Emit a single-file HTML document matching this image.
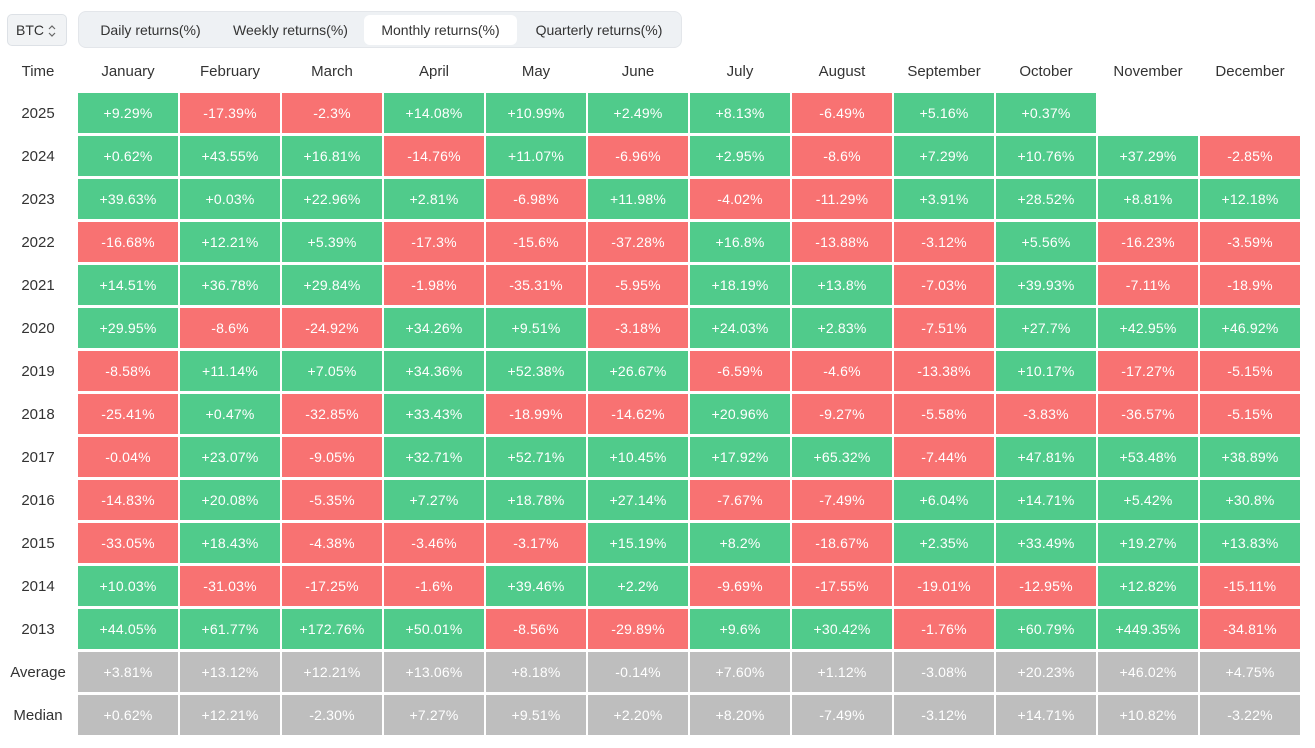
<!DOCTYPE html>
<html><head><meta charset="utf-8"><style>
body{margin:0;width:1315px;height:748px;background:#fff;font-family:"Liberation Sans",sans-serif;position:relative;overflow:hidden}
.btc{position:absolute;left:7px;top:14px;width:60px;height:32px;box-sizing:border-box;border:1px solid #dde1e6;background:#f1f3f5;border-radius:5px;font-size:14px;color:#333;line-height:30px;padding-left:8px;white-space:nowrap}
.btc svg{position:absolute;left:40px;top:10px}
.tabs{position:absolute;left:78px;top:11px;width:604px;height:37px;background:#eef1f4;border:1px solid #e3e6ea;box-sizing:border-box;border-radius:8px}
.tab{position:absolute;top:3px;height:30px;line-height:30px;font-size:14px;color:#333;text-align:center}
.act{background:#fff;border-radius:6px}
.g{position:absolute;left:0;top:60px;display:grid;grid-template-columns:76px repeat(12,100px);column-gap:2px;row-gap:3px}
.h{height:24px;line-height:24px;text-align:center;font-size:15px;color:#333;margin-bottom:6px}
.t{height:40px;line-height:42px;text-align:center;font-size:15px;color:#333}
.c{height:40px;line-height:40px;text-align:center;font-size:14px;color:#fff;letter-spacing:.2px}
.p{background:#50cb8b}.n{background:#f87272}.a{background:#bebebe}.e{background:#fff}
</style></head><body>
<div class="btc">BTC<svg width="8" height="12" viewBox="0 0 8 12"><path d="M1 4 L4 1 L7 4 M1 8 L4 11 L7 8" fill="none" stroke="#666" stroke-width="1.2"/></svg></div>
<div class="tabs">
<div class="tab" style="left:4px;width:135px">Daily returns(%)</div>
<div class="tab" style="left:139px;width:145px">Weekly returns(%)</div>
<div class="tab act" style="left:285px;width:153px">Monthly returns(%)</div>
<div class="tab" style="left:440px;width:160px">Quarterly returns(%)</div>
</div>
<div class="g" id="g"></div>
<script>
var m=["Time","January","February","March","April","May","June","July","August","September","October","November","December"];
var d=[["2025","+9.29%","-17.39%","-2.3%","+14.08%","+10.99%","+2.49%","+8.13%","-6.49%","+5.16%","+0.37%","",""],
["2024","+0.62%","+43.55%","+16.81%","-14.76%","+11.07%","-6.96%","+2.95%","-8.6%","+7.29%","+10.76%","+37.29%","-2.85%"],
["2023","+39.63%","+0.03%","+22.96%","+2.81%","-6.98%","+11.98%","-4.02%","-11.29%","+3.91%","+28.52%","+8.81%","+12.18%"],
["2022","-16.68%","+12.21%","+5.39%","-17.3%","-15.6%","-37.28%","+16.8%","-13.88%","-3.12%","+5.56%","-16.23%","-3.59%"],
["2021","+14.51%","+36.78%","+29.84%","-1.98%","-35.31%","-5.95%","+18.19%","+13.8%","-7.03%","+39.93%","-7.11%","-18.9%"],
["2020","+29.95%","-8.6%","-24.92%","+34.26%","+9.51%","-3.18%","+24.03%","+2.83%","-7.51%","+27.7%","+42.95%","+46.92%"],
["2019","-8.58%","+11.14%","+7.05%","+34.36%","+52.38%","+26.67%","-6.59%","-4.6%","-13.38%","+10.17%","-17.27%","-5.15%"],
["2018","-25.41%","+0.47%","-32.85%","+33.43%","-18.99%","-14.62%","+20.96%","-9.27%","-5.58%","-3.83%","-36.57%","-5.15%"],
["2017","-0.04%","+23.07%","-9.05%","+32.71%","+52.71%","+10.45%","+17.92%","+65.32%","-7.44%","+47.81%","+53.48%","+38.89%"],
["2016","-14.83%","+20.08%","-5.35%","+7.27%","+18.78%","+27.14%","-7.67%","-7.49%","+6.04%","+14.71%","+5.42%","+30.8%"],
["2015","-33.05%","+18.43%","-4.38%","-3.46%","-3.17%","+15.19%","+8.2%","-18.67%","+2.35%","+33.49%","+19.27%","+13.83%"],
["2014","+10.03%","-31.03%","-17.25%","-1.6%","+39.46%","+2.2%","-9.69%","-17.55%","-19.01%","-12.95%","+12.82%","-15.11%"],
["2013","+44.05%","+61.77%","+172.76%","+50.01%","-8.56%","-29.89%","+9.6%","+30.42%","-1.76%","+60.79%","+449.35%","-34.81%"],
["Average","+3.81%","+13.12%","+12.21%","+13.06%","+8.18%","-0.14%","+7.60%","+1.12%","-3.08%","+20.23%","+46.02%","+4.75%"],
["Median","+0.62%","+12.21%","-2.30%","+7.27%","+9.51%","+2.20%","+8.20%","-7.49%","-3.12%","+14.71%","+10.82%","-3.22%"]];
var h="";m.forEach(function(x){h+='<div class="h">'+x+'</div>'});
d.forEach(function(r){var avg=r[0]=="Average"||r[0]=="Median";h+='<div class="t">'+r[0]+'</div>';
for(var i=1;i<13;i++){var v=r[i];var c=v==""?"e":avg?"a":(v[0]=="-"?"n":"p");h+='<div class="c '+c+'">'+v+'</div>';}});
document.getElementById("g").innerHTML=h;
</script>
</body></html>
